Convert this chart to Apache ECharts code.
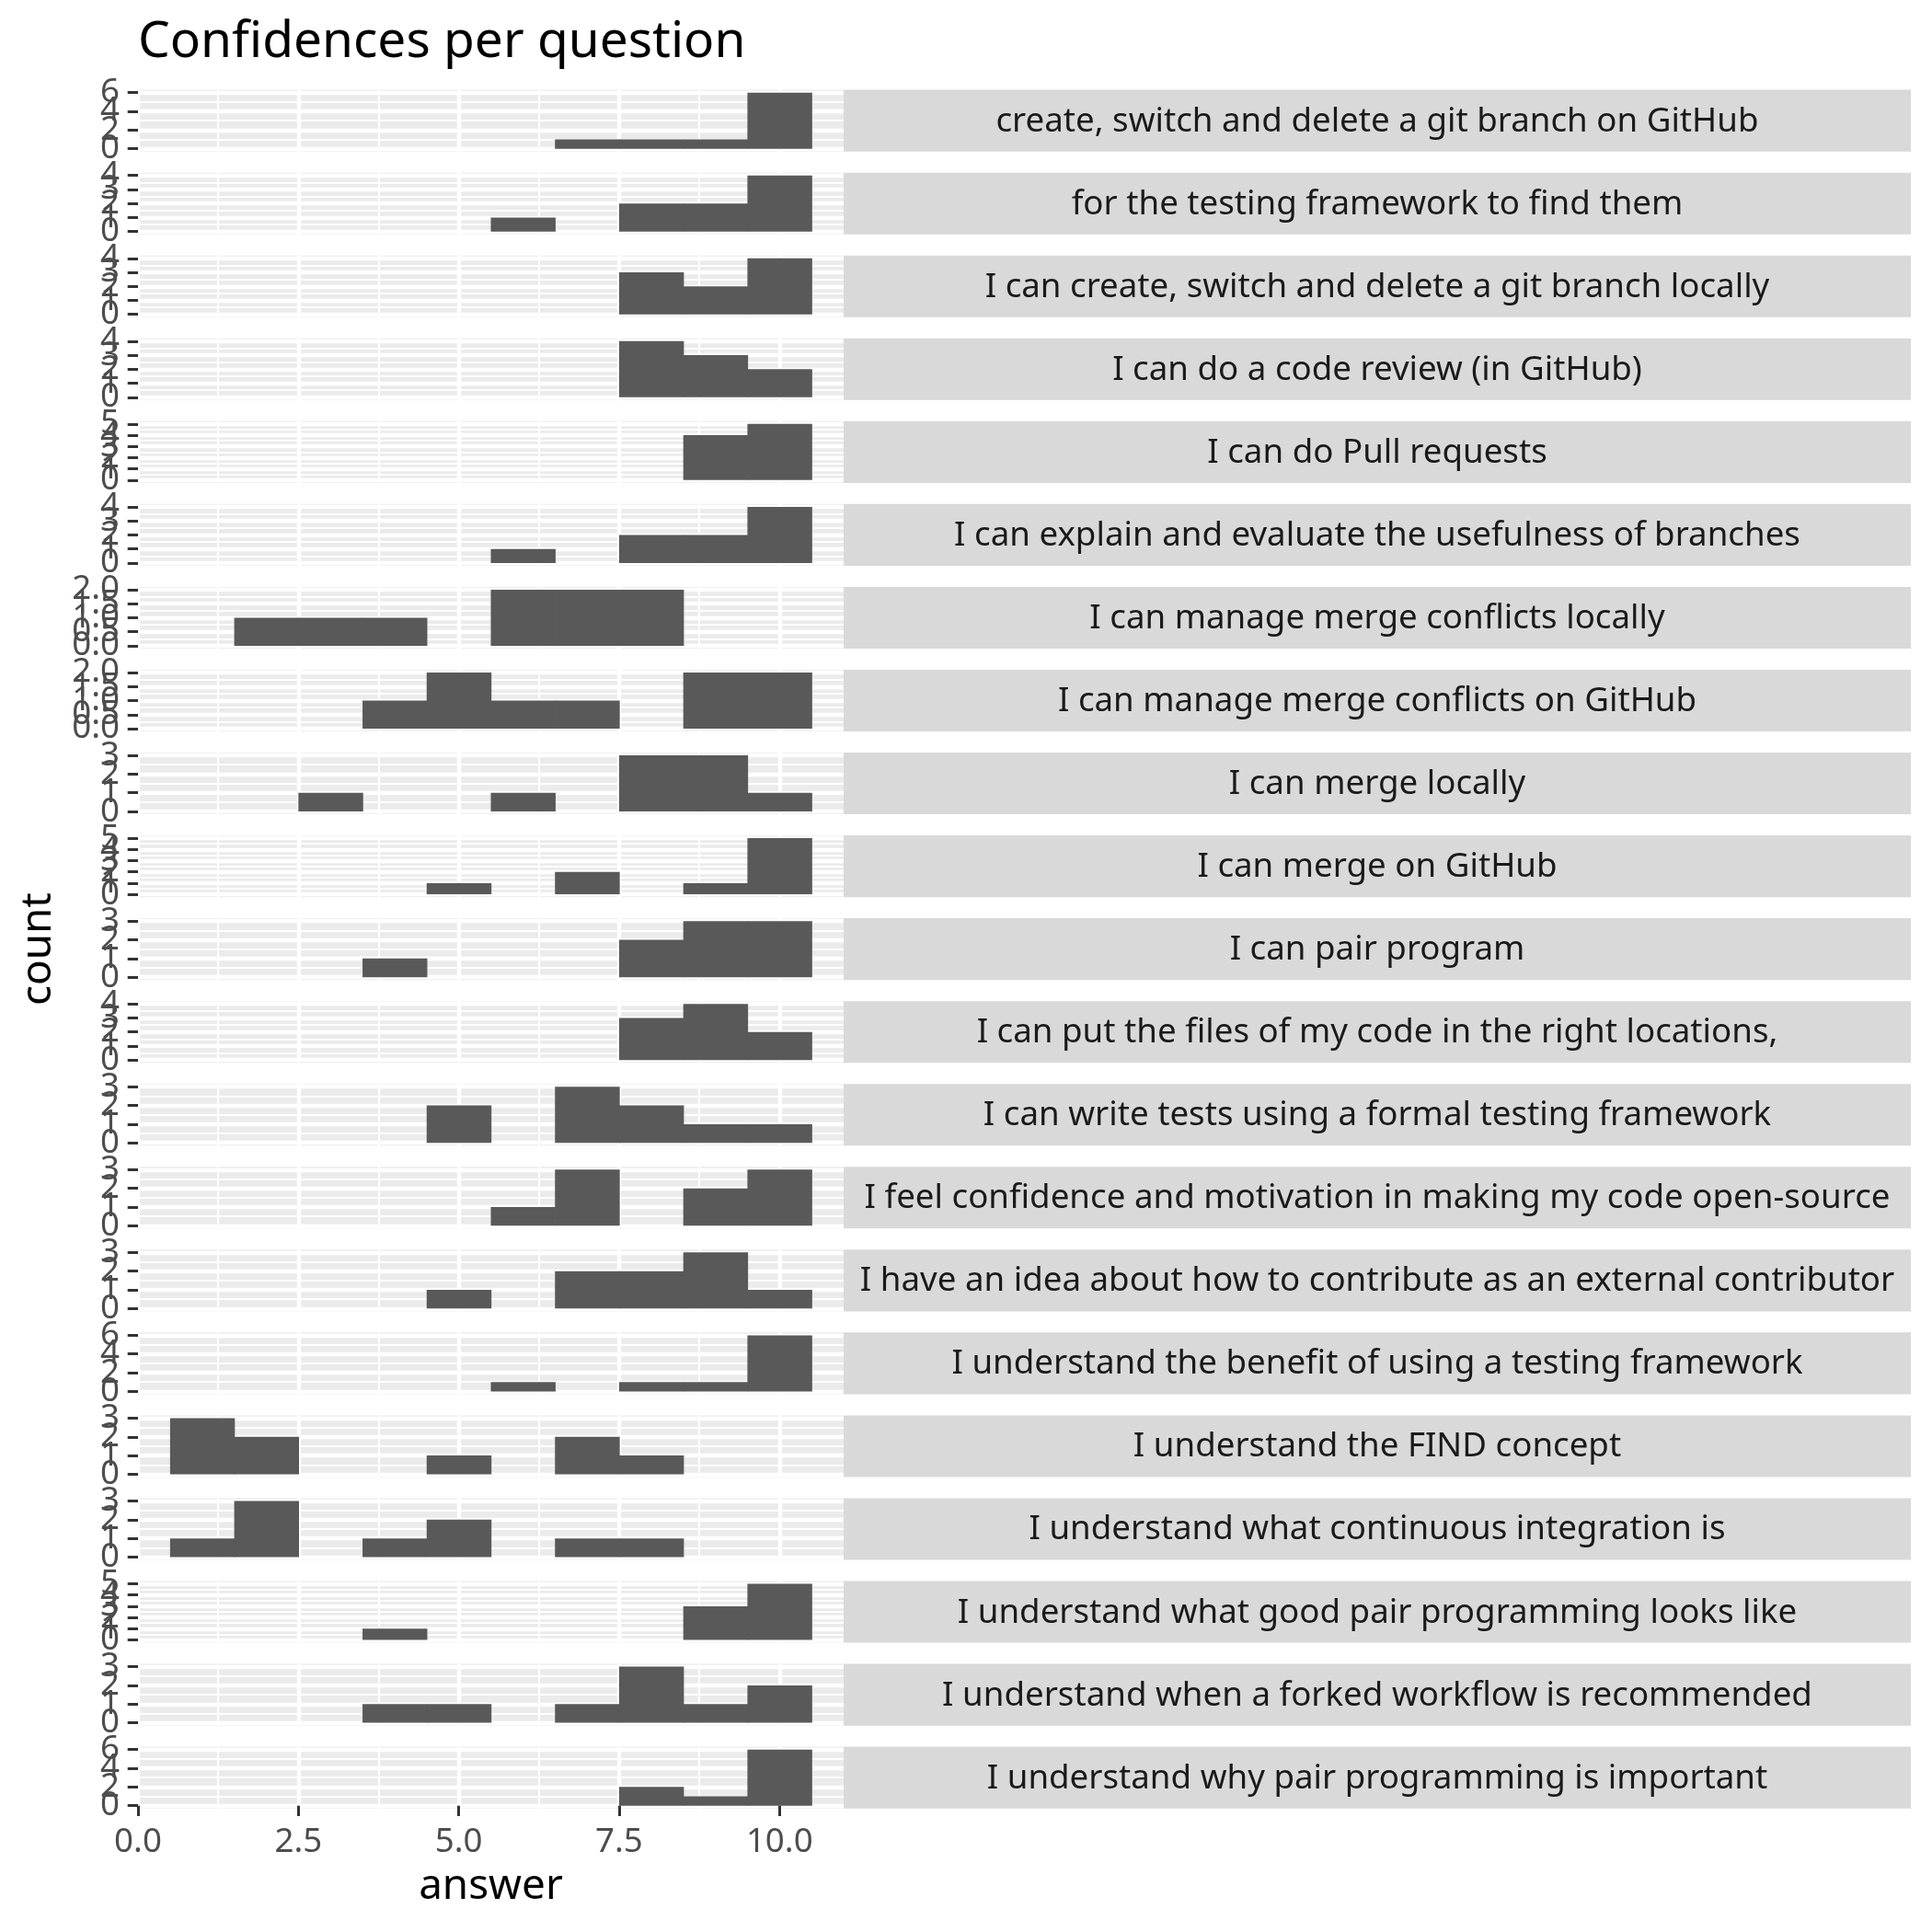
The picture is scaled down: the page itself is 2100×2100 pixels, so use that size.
<!DOCTYPE html>
<html><head><meta charset="utf-8">
<script src="https://cdn.jsdelivr.net/npm/echarts@6/dist/echarts.min.js"></script>
<style>html,body{margin:0;padding:0;background:#fff}#c{width:2100px;height:2100px}</style>
</head><body><div id="c"></div>
<script>
// ---------- data ----------
const chartTitle = 'Confidences per question';
const xTitle = 'answer';
const yTitle = 'count';
const questions = [
  'create, switch and delete a git branch on GitHub',
  'for the testing framework to find them',
  'I can create, switch and delete a git branch locally',
  'I can do a code review (in GitHub)',
  'I can do Pull requests',
  'I can explain and evaluate the usefulness of branches',
  'I can manage merge conflicts locally',
  'I can manage merge conflicts on GitHub',
  'I can merge locally',
  'I can merge on GitHub',
  'I can pair program',
  'I can put the files of my code in the right locations,',
  'I can write tests using a formal testing framework',
  'I feel confidence and motivation in making my code open-source',
  'I have an idea about how to contribute as an external contributor',
  'I understand the benefit of using a testing framework',
  'I understand the FIND concept',
  'I understand what continuous integration is',
  'I understand what good pair programming looks like',
  'I understand when a forked workflow is recommended',
  'I understand why pair programming is important'
];
// histogram bins (answer values), width 1
const bins = [1, 2, 3, 4, 5, 6, 7, 8, 9, 10];
// counts per bin, one array per question
const q01 = [0, 0, 0, 0, 0, 0, 1, 1, 1, 6];
const q02 = [0, 0, 0, 0, 0, 1, 0, 2, 2, 4];
const q03 = [0, 0, 0, 0, 0, 0, 0, 3, 2, 4];
const q04 = [0, 0, 0, 0, 0, 0, 0, 4, 3, 2];
const q05 = [0, 0, 0, 0, 0, 0, 0, 0, 4, 5];
const q06 = [0, 0, 0, 0, 0, 1, 0, 2, 2, 4];
const q07 = [0, 1, 1, 1, 0, 2, 2, 2, 0, 0];
const q08 = [0, 0, 0, 1, 2, 1, 1, 0, 2, 2];
const q09 = [0, 0, 1, 0, 0, 1, 0, 3, 3, 1];
const q10 = [0, 0, 0, 0, 1, 0, 2, 0, 1, 5];
const q11 = [0, 0, 0, 1, 0, 0, 0, 2, 3, 3];
const q12 = [0, 0, 0, 0, 0, 0, 0, 3, 4, 2];
const q13 = [0, 0, 0, 0, 2, 0, 3, 2, 1, 1];
const q14 = [0, 0, 0, 0, 0, 1, 3, 0, 2, 3];
const q15 = [0, 0, 0, 0, 1, 0, 2, 2, 3, 1];
const q16 = [0, 0, 0, 0, 0, 1, 0, 1, 1, 6];
const q17 = [3, 2, 0, 0, 1, 0, 2, 1, 0, 0];
const q18 = [1, 3, 0, 1, 2, 0, 1, 1, 0, 0];
const q19 = [0, 0, 0, 1, 0, 0, 0, 0, 3, 5];
const q20 = [0, 0, 0, 1, 1, 0, 1, 3, 1, 2];
const q21 = [0, 0, 0, 0, 0, 0, 0, 2, 1, 6];
const counts = [q01,q02,q03,q04,q05,q06,q07,q08,q09,q10,q11,q12,q13,q14,q15,q16,q17,q18,q19,q20,q21];

// y tick labels (major) and minor gridline values per panel
const ySix   = [0, 2, 4, 6],            ySixMinor   = [1, 3, 5];
const yFive  = [0, 1, 2, 3, 4, 5],      yFiveMinor  = [0.5, 1.5, 2.5, 3.5, 4.5];
const yFour  = [0, 1, 2, 3, 4],         yFourMinor  = [0.5, 1.5, 2.5, 3.5];
const yThree = [0, 1, 2, 3],            yThreeMinor = [0.5, 1.5, 2.5];
const yTwo   = [0, 0.5, 1, 1.5, 2],     yTwoMinor   = [0.25, 0.75, 1.25, 1.75];
const yMajor = [ySix,yFour,yFour,yFour,yFive,yFour,yTwo,yTwo,yThree,yFive,yThree,yFour,yThree,yThree,yThree,ySix,yThree,yThree,yFive,yThree,ySix];
const yMinor = [ySixMinor,yFourMinor,yFourMinor,yFourMinor,yFiveMinor,yFourMinor,yTwoMinor,yTwoMinor,yThreeMinor,yFiveMinor,yThreeMinor,yFourMinor,yThreeMinor,yThreeMinor,yThreeMinor,ySixMinor,yThreeMinor,yThreeMinor,yFiveMinor,yThreeMinor,ySixMinor];
// x tick labels
const xMajor = [0, 2.5, 5, 7.5, 10];
const xMinor = [1.25, 3.75, 6.25, 8.75];

// ---------- layout ----------
const FONT = '"Noto Sans", "Open Sans", sans-serif';
const LEFT = 150, PW = 767, TOP0 = 97.6, PITCH = 90.05, PH = 67.1;
const STRIP_X = 917, STRIP_W = 1160;
const TXT = 36.7;

const grids = [], xAxes = [], yAxes = [], series = [], graphics = [];
const n = questions.length;
for (let i = 0; i < n; i++) {
  const top = TOP0 + i * PITCH;
  const last = i === n - 1;
  grids.push({left: LEFT, top: top, width: PW, height: PH, show: true,
    backgroundColor: '#EBEBEB', borderWidth: 0, containLabel: false, outerBoundsMode: 'none'});
  const xBase = xAxes.length;
  xAxes.push({type: 'value', gridIndex: i, min: 0, max: 11, position: 'bottom',
    axisLine: {show: false},
    axisTick: {show: last, interval: 0, customValues: xMajor, length: 11.3, lineStyle: {color: '#333333', width: 3}},
    axisLabel: {show: last, interval: 0, customValues: xMajor, formatter: v => v.toFixed(1),
      showMinLabel: true, showMaxLabel: true, hideOverlap: false,
      fontSize: TXT, color: '#4D4D4D', fontFamily: FONT, margin: 18},
    splitLine: {show: true, interval: 0, lineStyle: {color: '#FFFFFF', width: 4.3}}});
  xAxes.push({type: 'value', gridIndex: i, min: 0, max: 11, position: 'bottom',
    axisLine: {show: false},
    axisTick: {show: false, interval: 0, customValues: xMinor},
    axisLabel: {show: false, interval: 0, customValues: xMinor},
    splitLine: {show: true, interval: 0, lineStyle: {color: '#FFFFFF', width: 2.1}}});
  const m = Math.max(...counts[i]);
  const frac = yMajor[i][1] < 1;
  const yBase = yAxes.length;
  // one axis per major tick so that ECharts never thins the overlapping labels
  yMajor[i].forEach(v => {
    yAxes.push({type: 'value', gridIndex: i, min: -0.05 * m, max: 1.05 * m, position: 'left',
      axisLine: {show: false},
      axisTick: {show: true, interval: 0, customValues: [v], length: 11.3, lineStyle: {color: '#333333', width: 3}},
      axisLabel: {show: true, interval: 0, customValues: [v], formatter: t => frac ? t.toFixed(1) : String(Math.round(t)),
        showMinLabel: true, showMaxLabel: true, hideOverlap: false,
        fontSize: TXT, color: '#4D4D4D', fontFamily: FONT, margin: 20},
      splitLine: {show: true, interval: 0, lineStyle: {color: '#FFFFFF', width: 4.3}}});
  });
  yAxes.push({type: 'value', gridIndex: i, min: -0.05 * m, max: 1.05 * m, position: 'left',
    axisLine: {show: false},
    axisTick: {show: false, interval: 0, customValues: yMinor[i]},
    axisLabel: {show: false, interval: 0, customValues: yMinor[i]},
    splitLine: {show: true, interval: 0, lineStyle: {color: '#FFFFFF', width: 2.1}}});
  series.push({type: 'custom', xAxisIndex: xBase, yAxisIndex: yBase, silent: true, z: 5,
    data: bins.map((b, k) => [b, counts[i][k]]),
    encode: {x: 0, y: 1},
    renderItem: (params, api) => {
      const x = api.value(0), y = api.value(1);
      if (!y) return null;
      const p0 = api.coord([x - 0.5, y]);
      const p1 = api.coord([x + 0.5, 0]);
      // slight overlap hides anti-aliasing seams between neighbouring bars
      return {type: 'rect', shape: {x: p0[0], y: p0[1], width: p1[0] - p0[0] + 0.7, height: p1[1] - p0[1]},
        style: {fill: '#595959'}};
    }});
  graphics.push({type: 'rect', x: STRIP_X, y: top, shape: {x: 0, y: 0, width: STRIP_W, height: PH},
    style: {fill: '#D9D9D9'}, silent: true});
  graphics.push({type: 'text', x: STRIP_X + STRIP_W / 2, y: top + PH / 2 + 1,
    style: {text: questions[i], fontSize: TXT, fontFamily: FONT, fill: '#1A1A1A',
      textAlign: 'center', textVerticalAlign: 'middle'}, silent: true});
}
graphics.push({type: 'text', x: 150, y: 46,
  style: {text: chartTitle, fontSize: 55, fontFamily: FONT, fill: '#000000', textAlign: 'left', textVerticalAlign: 'middle'}});
graphics.push({type: 'text', x: 533.5, y: 2051,
  style: {text: xTitle, fontSize: 45.8, fontFamily: FONT, fill: '#000000', textAlign: 'center', textVerticalAlign: 'middle'}});
graphics.push({type: 'text', x: 42, y: 1031.6, rotation: Math.PI / 2,
  style: {text: yTitle, fontSize: 45.8, fontFamily: FONT, fill: '#000000', textAlign: 'center', textVerticalAlign: 'middle'}});

const chart = echarts.init(document.getElementById('c'), null, {renderer: 'canvas'});
chart.setOption({
  animation: false,
  backgroundColor: '#FFFFFF',
  grid: grids, xAxis: xAxes, yAxis: yAxes, series: series,
  graphic: graphics
});
</script></body></html>
